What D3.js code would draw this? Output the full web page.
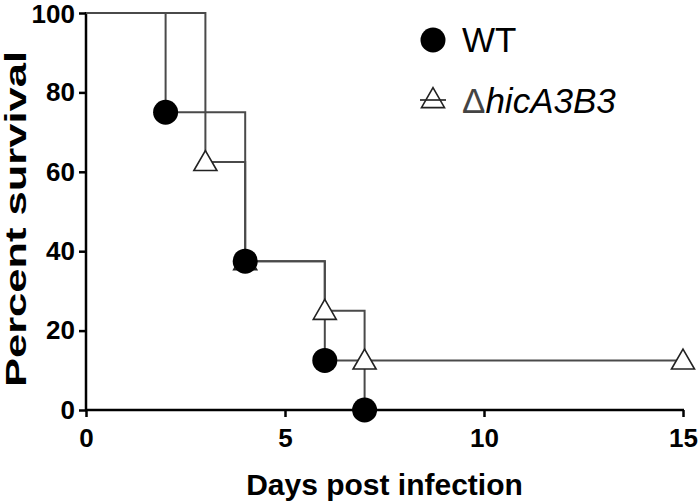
<!DOCTYPE html>
<html>
<head>
<meta charset="utf-8">
<script src="https://cdn.jsdelivr.net/npm/d3@7"></script>
<style>
  body { margin: 0; background: #fff; }
  text { font-family: "Liberation Sans", Arial, sans-serif; }
</style>
</head>
<body>
<div id="chart"></div>
<script>
// survival data
var wtDays = [0, 2, 4, 6, 7];
var wtSurvival = [100, 75, 37.5, 12.5, 0];
var mutDays = [0, 3, 4, 6, 7, 15];
var mutSurvival = [100, 62.5, 37.5, 25, 12.5, 12.5];

var seriesNames = ["WT", "hicA3B3"];
var xTicks = [0, 5, 10, 15];
var yTicks = [0, 20, 40, 60, 80, 100];

var width = 700, height = 503;

const svg = d3.select("#chart")
  .append("svg")
    .attr("width", width)
    .attr("height", height);

const x = d3.scaleLinear().domain([0, 15]).range([86, 683]);
const y = d3.scaleLinear().domain([0, 100]).range([410, 13]);

// axes
const xAxis = svg.append("g")
  .attr("transform", `translate(0, ${y(0)})`)
  .call(d3.axisBottom(x).tickValues(xTicks).tickSize(7).tickPadding(12).tickSizeOuter(0));
const yAxis = svg.append("g")
  .attr("transform", `translate(${x(0)}, 0)`)
  .call(d3.axisLeft(y).tickValues(yTicks).tickSize(7).tickPadding(4).tickSizeOuter(0));

[xAxis, yAxis].forEach(function(g) {
  g.select(".domain").attr("stroke", "#000").attr("stroke-width", 2.5);
  g.selectAll(".tick line").attr("stroke", "#000").attr("stroke-width", 2.5);
  g.selectAll(".tick text")
    .attr("fill", "#000")
    .style("font-size", "26px")
    .style("font-weight", "bold")
    .style("font-family", "'Liberation Sans', Arial, sans-serif");
});
// extend domains so the axes cross
xAxis.select(".domain").attr("d", `M${x(0) - 1},0H${x(15) + 1}`);
yAxis.select(".domain").attr("d", `M0,${y(100) - 1}V${y(0) + 1}`);
// keep the top label inside the frame
yAxis.selectAll(".tick text").filter(d => d === 100).attr("dy", "0.36em");

// axis titles
svg.append("text")
  .attr("x", (x(0) + x(15)) / 2)
  .attr("y", 495)
  .attr("text-anchor", "middle")
  .style("font-size", "30px")
  .style("font-weight", "bold")
  .text("Days post infection");

svg.append("text")
  .attr("transform", "translate(26, 219) rotate(-90)")
  .attr("text-anchor", "middle")
  .attr("textLength", 336)
  .attr("lengthAdjust", "spacingAndGlyphs")
  .style("font-size", "29px")
  .style("font-weight", "bold")
  .text("Percent survival");

// step lines
const line = d3.line()
  .x(d => x(d[0]))
  .y(d => y(d[1]))
  .curve(d3.curveStepAfter);

const wtPts = wtDays.map((d, i) => [d, wtSurvival[i]]);
const mutPts = mutDays.map((d, i) => [d, mutSurvival[i]]);

[wtPts, mutPts].forEach(function(pts) {
  svg.append("path")
    .datum(pts)
    .attr("fill", "none")
    .attr("stroke", "#4a4a4a")
    .attr("stroke-width", 2)
    .attr("d", line);
});

// markers
const tri = d3.symbol().type(d3.symbolTriangle).size(230);

svg.append("g")
  .selectAll("path")
  .data(mutPts.slice(1))
  .join("path")
    .attr("d", tri)
    .attr("transform", d => `translate(${x(d[0])}, ${y(d[1]) + 2})`)
    .attr("fill", "#fff")
    .attr("stroke", "#222")
    .attr("stroke-width", 1.6);

svg.append("g")
  .selectAll("circle")
  .data(wtPts.slice(1))
  .join("circle")
    .attr("cx", d => x(d[0]))
    .attr("cy", d => y(d[1]))
    .attr("r", 12.5)
    .attr("fill", "#000");

// legend
const legend = svg.append("g");
legend.append("circle")
  .attr("cx", 433).attr("cy", 40).attr("r", 12.5).attr("fill", "#000");
legend.append("text")
  .attr("x", 462).attr("y", 52)
  .style("font-size", "35px")
  .text(seriesNames[0]);

legend.append("line")
  .attr("x1", 420).attr("x2", 446).attr("y1", 100).attr("y2", 100)
  .attr("stroke", "#4a4a4a").attr("stroke-width", 2);
legend.append("path")
  .attr("d", tri)
  .attr("transform", "translate(433, 101)")
  .attr("fill", "none")
  .attr("stroke", "#222")
  .attr("stroke-width", 1.6);
const legText = legend.append("text")
  .attr("x", 462).attr("y", 113)
  .style("font-size", "35px");
legText.append("tspan").attr("fill", "#444").text("\u0394");
legText.append("tspan").style("font-style", "italic").text(seriesNames[1]);
</script>
</body>
</html>
